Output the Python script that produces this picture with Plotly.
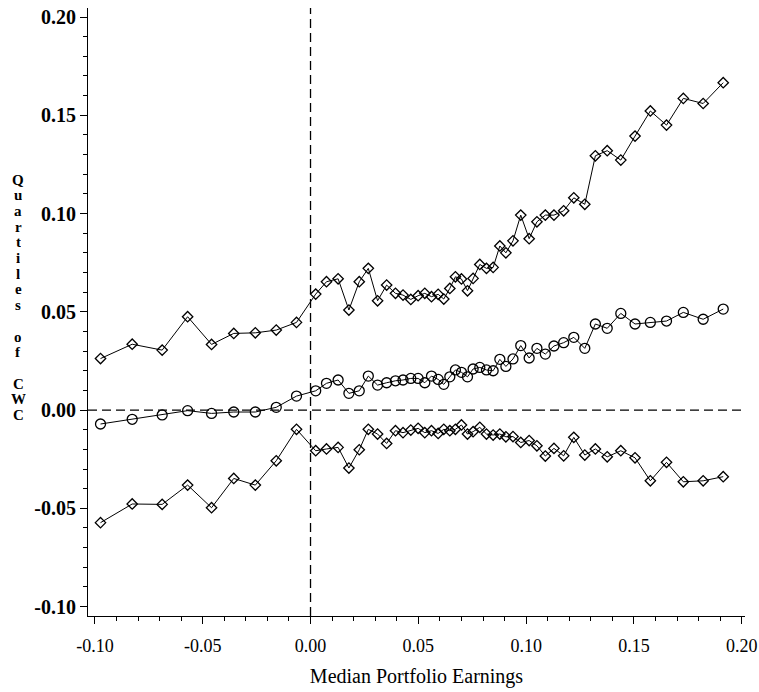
import plotly.graph_objects as go

# Median earnings of each portfolio (shared by the three quartile series)
earnings = [
    -0.0974, -0.0827, -0.0688, -0.0570, -0.0459, -0.0356, -0.0256, -0.0159, -0.0065,
    0.0024, 0.0074, 0.0128, 0.0178, 0.0226, 0.0268, 0.0311, 0.0353, 0.0394, 0.0429,
    0.0465, 0.0499, 0.0530, 0.0561, 0.0592, 0.0618, 0.0646, 0.0672, 0.0700, 0.0728,
    0.0754, 0.0785, 0.0816, 0.0847, 0.0878, 0.0906, 0.0939, 0.0975, 0.1014, 0.1050,
    0.1089, 0.1129, 0.1174, 0.1221, 0.1272, 0.1321, 0.1376, 0.1439, 0.1505, 0.1576,
    0.1651, 0.1729, 0.1821, 0.1914,
]

# Upper quartile of CWC
upper_q = [
    0.0262, 0.0335, 0.0305, 0.0475, 0.0334, 0.0390, 0.0393, 0.0407, 0.0446,
    0.0590, 0.0653, 0.0668, 0.0509, 0.0653, 0.0721, 0.0556, 0.0636, 0.0594, 0.0585,
    0.0563, 0.0582, 0.0594, 0.0577, 0.0589, 0.0565, 0.0619, 0.0678, 0.0667, 0.0607,
    0.0670, 0.0741, 0.0721, 0.0726, 0.0835, 0.0800, 0.0861, 0.0992, 0.0872, 0.0958,
    0.0992, 0.0992, 0.1014, 0.1080, 0.1047, 0.1294, 0.1320, 0.1272, 0.1394, 0.1522,
    0.1450, 0.1586, 0.1560, 0.1666,
]

# Median of CWC
median_q = [
    -0.0071, -0.0047, -0.0025, -0.0003, -0.0017, -0.0010, -0.0010, 0.0014, 0.0071,
    0.0098, 0.0136, 0.0153, 0.0085, 0.0098, 0.0173, 0.0127, 0.0139, 0.0149, 0.0153,
    0.0161, 0.0161, 0.0139, 0.0173, 0.0156, 0.0131, 0.0169, 0.0204, 0.0192, 0.0169,
    0.0209, 0.0217, 0.0204, 0.0200, 0.0258, 0.0222, 0.0260, 0.0328, 0.0265, 0.0314,
    0.0285, 0.0326, 0.0343, 0.0370, 0.0314, 0.0438, 0.0416, 0.0492, 0.0438, 0.0446,
    0.0453, 0.0497, 0.0462, 0.0514,
]

# Lower quartile of CWC
lower_q = [
    -0.0573, -0.0478, -0.0480, -0.0382, -0.0497, -0.0348, -0.0382, -0.0258, -0.0098,
    -0.0207, -0.0198, -0.0190, -0.0295, -0.0202, -0.0098, -0.0122, -0.0170, -0.0105, -0.0115,
    -0.0102, -0.0093, -0.0115, -0.0105, -0.0119, -0.0098, -0.0105, -0.0098, -0.0076, -0.0122,
    -0.0110, -0.0088, -0.0122, -0.0127, -0.0122, -0.0136, -0.0135, -0.0165, -0.0155, -0.0182,
    -0.0234, -0.0195, -0.0233, -0.0139, -0.0229, -0.0198, -0.0238, -0.0207, -0.0243, -0.0360,
    -0.0266, -0.0365, -0.0360, -0.0339,
]

x_tick_vals = [-0.10, -0.05, 0.00, 0.05, 0.10, 0.15, 0.20]
x_tick_text = ["-0.10", "-0.05", "0.00", "0.05", "0.10", "0.15", "0.20"]
y_tick_vals = [-0.10, -0.05, 0.00, 0.05, 0.10, 0.15, 0.20]
y_tick_text = ["-0.10", "-0.05", "0.00", "0.05", "0.10", "0.15", "0.20"]

y_title_letters = ["Q", "u", "a", "r", "t", "i", "l", "e", "s", "", "o", "f", "", "C", "W", "C"]

SERIF = "Liberation Serif, Times New Roman, serif"
INK = "black"

W, H = 759, 692
M_L, M_R, M_T, M_B = 88, 14, 8, 76

fig = go.Figure()

diamond = dict(symbol="diamond-open", size=8, color=INK, line=dict(width=1.3, color=INK))
circle = dict(symbol="circle-open", size=10, color=INK, line=dict(width=1.3, color=INK))

fig.add_trace(go.Scatter(x=earnings, y=upper_q, mode="lines+markers",
                         line=dict(color=INK, width=1), marker=diamond, name="Upper quartile"))
fig.add_trace(go.Scatter(x=earnings, y=median_q, mode="lines+markers",
                         line=dict(color=INK, width=1), marker=circle, name="Median"))
fig.add_trace(go.Scatter(x=earnings, y=lower_q, mode="lines+markers",
                         line=dict(color=INK, width=1), marker=diamond, name="Lower quartile"))

# dashed reference lines at zero on both axes
fig.add_shape(type="line", xref="x", yref="paper", x0=0, x1=0, y0=0, y1=1,
              line=dict(color=INK, width=1.3, dash="9px,5px"))
fig.add_shape(type="line", xref="paper", yref="y", x0=0, x1=1, y0=0, y1=0,
              line=dict(color=INK, width=1.3, dash="9px,5px"))

# y-axis title written as a vertical column of letters
plot_w = W - M_L - M_R
plot_h = H - M_T - M_B
y_start_px, step_px = 179, 15.7
for i, ch in enumerate(y_title_letters):
    if not ch:
        continue
    py = y_start_px + i * step_px
    fig.add_annotation(
        text=ch, xref="paper", yref="paper",
        x=(18 - M_L) / plot_w, y=(H - M_B - py) / plot_h,
        xanchor="center", yanchor="middle", valign="middle", showarrow=False,
        height=15,
        font=dict(family=SERIF, size=15, color=INK, weight="bold"),
    )

fig.update_layout(
    width=W, height=H,
    margin=dict(l=M_L, r=M_R, t=M_T, b=M_B, autoexpand=False),
    paper_bgcolor="white", plot_bgcolor="white",
    showlegend=False,
    font=dict(family=SERIF, color=INK),
    xaxis=dict(
        range=[-0.1032, 0.2015], automargin=False,
        tickvals=x_tick_vals, ticktext=x_tick_text,
        ticks="outside", ticklen=7, tickwidth=1, tickcolor=INK,
        minor=dict(dtick=0.01, tick0=0, ticks="outside", ticklen=4, tickwidth=1, tickcolor=INK),
        showline=True, linecolor=INK, linewidth=1.2, mirror=False,
        showgrid=False, zeroline=False,
        ticklabelstandoff=6,
        tickfont=dict(family=SERIF, size=18, color=INK),
        title=dict(text="Median Portfolio Earnings", font=dict(family=SERIF, size=20, color=INK),
                   standoff=14),
    ),
    yaxis=dict(
        range=[-0.1048, 0.2046], automargin=False,
        tickvals=y_tick_vals, ticktext=y_tick_text,
        ticks="outside", ticklen=7, tickwidth=1, tickcolor=INK,
        minor=dict(dtick=0.01, tick0=0, ticks="outside", ticklen=4, tickwidth=1, tickcolor=INK),
        showline=True, linecolor=INK, linewidth=1.2, mirror=False,
        showgrid=False, zeroline=False,
        tickfont=dict(family=SERIF, size=20, color=INK, weight="bold"),
    ),
)

fig.write_html("out.html")
